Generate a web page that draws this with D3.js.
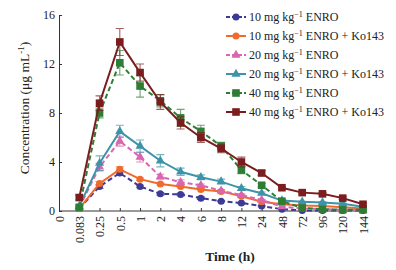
<!DOCTYPE html>
<html>
<head>
<meta charset="utf-8">
<script src="https://cdn.jsdelivr.net/npm/d3@7"></script>
<style>
  body { margin: 0; background: #fff; }
  svg text { font-family: "Liberation Serif", "DejaVu Serif", serif; }
</style>
</head>
<body>
<svg id="chart" width="396" height="270"></svg>
<script>
// Time points (categorical axis)
const times = ["0", "0.083", "0.25", "0.5", "1", "2", "4", "6", "8", "12", "24", "48", "72", "96", "120", "144"];
const sampleTimes = times.slice(1);
const yTicks = [0, 4, 8, 12, 16];

// Mean concentrations (ug/mL), one value per sample time
const enro10 = [0.2, 2.0, 3.1, 2.0, 1.4, 1.35, 1.05, 0.8, 0.65, 0.4, 0.15, 0.05, 0.05, 0.05, 0.05];
const enro10Ko = [0.2, 2.25, 3.4, 2.6, 2.2, 2.0, 1.75, 1.6, 1.2, 0.75, 0.55, 0.45, 0.4, 0.3, 0.2];
const enro20 = [0.3, 3.6, 5.7, 4.4, 2.8, 2.35, 2.1, 1.65, 1.3, 0.9, 0.35, 0.2, 0.15, 0.1, 0.1];
const enro20Ko = [0.4, 3.9, 6.5, 5.3, 4.1, 3.2, 2.75, 2.4, 1.85, 1.45, 0.85, 0.75, 0.7, 0.6, 0.35];
const enro40 = [0.3, 8.0, 12.1, 10.2, 9.0, 7.6, 6.5, 5.3, 3.35, 2.1, 0.8, 0.25, 0.15, 0.1, 0.1];
const enro40Ko = [1.1, 8.8, 13.8, 11.3, 8.9, 7.2, 6.0, 5.1, 4.0, 3.1, 1.9, 1.5, 1.4, 1.05, 0.55];

// Standard deviations
const sd10 = [0, 0.15, 0.2, 0.1, 0.1, 0.1, 0.1, 0.05, 0.05, 0.05, 0, 0, 0, 0, 0];
const sd10Ko = [0, 0.15, 0.2, 0.1, 0.1, 0.1, 0.1, 0.05, 0.05, 0.05, 0, 0, 0, 0, 0];
const sd20 = [0, 0.3, 0.4, 0.4, 0.2, 0.2, 0.1, 0.1, 0.1, 0.05, 0, 0, 0, 0, 0];
const sd20Ko = [0.1, 0.6, 0.5, 0.5, 0.5, 0.3, 0.2, 0.2, 0.15, 0.1, 0.05, 0.05, 0.05, 0.05, 0];
const sd40 = [0.1, 0.4, 1.0, 0.9, 0.5, 0.7, 0.5, 0.3, 0.3, 0.15, 0.1, 0, 0, 0, 0];
const sd40Ko = [0.2, 0.6, 1.1, 0.7, 0.6, 0.5, 0.4, 0.35, 0.4, 0.2, 0.1, 0.1, 0.1, 0.1, 0.1];

const seriesNames = ["10", "10", "20", "20", "40", "40"];
const seriesKo = [false, true, false, true, false, true];

const series = [
  { dose: seriesNames[0], ko: seriesKo[0], values: enro10, sd: sd10, color: "#3c3a94", dash: "5,3", shape: "circle" },
  { dose: seriesNames[1], ko: seriesKo[1], values: enro10Ko, sd: sd10Ko, color: "#f26a2b", dash: null, shape: "circle" },
  { dose: seriesNames[2], ko: seriesKo[2], values: enro20, sd: sd20, color: "#d966b0", dash: "5,3", shape: "triangle" },
  { dose: seriesNames[3], ko: seriesKo[3], values: enro20Ko, sd: sd20Ko, color: "#3d94a8", dash: null, shape: "triangle" },
  { dose: seriesNames[4], ko: seriesKo[4], values: enro40, sd: sd40, color: "#2f7d34", dash: "5,3", shape: "square" },
  { dose: seriesNames[5], ko: seriesKo[5], values: enro40Ko, sd: sd40Ko, color: "#7b1c1e", dash: null, shape: "square" }
];

const svg = d3.select("#chart");

const xScale = d3.scalePoint()
  .domain(times)
  .range([59, 363]);

const yScale = d3.scaleLinear()
  .domain([0, 16])
  .range([211, 15]);

// Axes with inward ticks
const xAxisG = svg.append("g")
  .attr("transform", "translate(0,211)")
  .call(d3.axisBottom(xScale).tickSize(-3).tickSizeOuter(0).tickPadding(4));
xAxisG.selectAll("text")
  .attr("transform", "rotate(-90)")
  .attr("text-anchor", "end")
  .attr("x", -5)
  .attr("y", 0)
  .attr("dy", "0.35em")
  .style("font-size", "12px")
  .attr("fill", "#222");
xAxisG.select(".domain").attr("d", "M59,0H367").attr("stroke", "#333");
xAxisG.selectAll(".tick line").attr("stroke", "#333");

const yAxisG = svg.append("g")
  .attr("transform", "translate(59,0)")
  .call(d3.axisLeft(yScale).tickValues(yTicks).tickSize(-3).tickSizeOuter(0).tickPadding(4));
yAxisG.selectAll("text").style("font-size", "12px").attr("fill", "#222");
yAxisG.select(".domain").attr("stroke", "#333");
yAxisG.selectAll(".tick line").attr("stroke", "#333");

// Axis titles
svg.append("text")
  .attr("x", 230)
  .attr("y", 261)
  .attr("text-anchor", "middle")
  .style("font-size", "13.5px")
  .style("font-weight", "bold")
  .attr("fill", "#222")
  .text("Time (h)");

const yTitle = svg.append("text")
  .attr("transform", "translate(29,108) rotate(-90)")
  .attr("text-anchor", "middle")
  .style("font-size", "13.5px")
  .attr("fill", "#222");
yTitle.append("tspan").text("Concentration (μg mL");
yTitle.append("tspan").attr("dy", -5).style("font-size", "9px").text("-1");
yTitle.append("tspan").attr("dy", 5).text(")");

// Marker drawing helper
function drawMarker(g, shape, color, x, y) {
  if (shape === "circle") {
    g.append("circle").attr("cx", x).attr("cy", y).attr("r", 3.5).attr("fill", color);
  } else if (shape === "square") {
    g.append("rect").attr("x", x - 3.8).attr("y", y - 3.8).attr("width", 7.6).attr("height", 7.6).attr("fill", color);
  } else {
    g.append("path").attr("d", d3.symbol(d3.symbolTriangle, 36)()).attr("transform", `translate(${x},${y})`).attr("fill", color);
  }
}

const line = d3.line()
  .x((d, i) => xScale(sampleTimes[i]))
  .y(d => yScale(d));

series.forEach(s => {
  const g = svg.append("g");

  // Error bars
  s.values.forEach((v, i) => {
    if (s.sd[i] <= 0) return;
    const x = xScale(sampleTimes[i]);
    const y1 = yScale(v + s.sd[i]);
    const y2 = yScale(Math.max(0, v - s.sd[i]));
    g.append("path")
      .attr("d", `M${x},${y1}V${y2}M${x - 4},${y1}H${x + 4}M${x - 4},${y2}H${x + 4}`)
      .attr("stroke", s.color)
      .attr("stroke-opacity", 0.7)
      .attr("stroke-width", 1.1)
      .attr("fill", "none");
  });

  g.append("path")
    .datum(s.values)
    .attr("d", line)
    .attr("fill", "none")
    .attr("stroke", s.color)
    .attr("stroke-width", 2)
    .attr("stroke-dasharray", s.dash);

  s.values.forEach((v, i) => drawMarker(g, s.shape, s.color, xScale(sampleTimes[i]), yScale(v)));
});

// Legend
const legend = svg.append("g");
series.forEach((s, i) => {
  const y = 17 + i * 19;
  legend.append("line")
    .attr("x1", 226).attr("x2", 246)
    .attr("y1", y).attr("y2", y)
    .attr("stroke", s.color)
    .attr("stroke-width", 2)
    .attr("stroke-dasharray", s.dash ? "4,2" : null);
  drawMarker(legend, s.shape, s.color, 236, y);
  const t = legend.append("text")
    .attr("x", 249)
    .attr("y", y + 4)
    .style("font-size", "12px")
    .attr("fill", "#222");
  t.append("tspan").text(`${s.dose} mg kg`);
  t.append("tspan").attr("dy", -4).style("font-size", "8px").text("−1");
  t.append("tspan").attr("dy", 4).text(s.ko ? " ENRO + Ko143" : " ENRO");
});
</script>
</body>
</html>
